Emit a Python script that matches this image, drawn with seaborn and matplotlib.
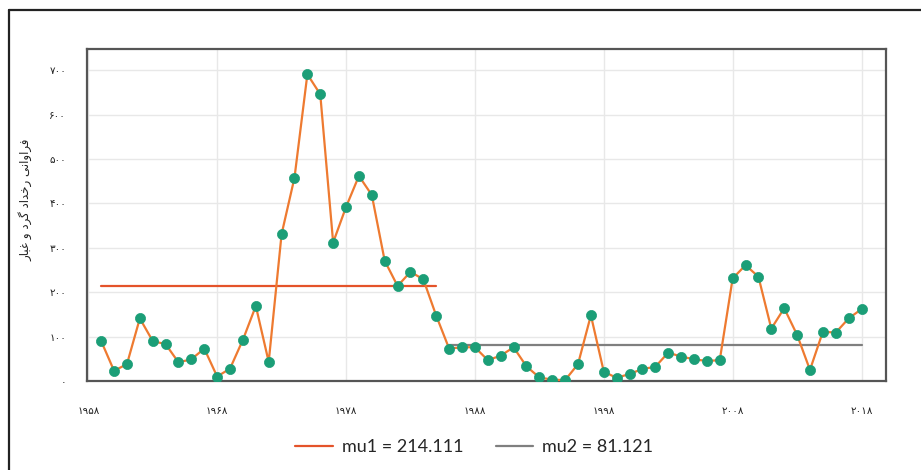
import matplotlib
matplotlib.use("Agg")
import matplotlib.pyplot as plt
import seaborn as sns
import pandas as pd

# ---------------- data ----------------
years = list(range(1959, 2019))
counts = [90, 23, 38, 141, 90, 83, 42, 49, 73, 10,
          28, 93, 169, 43, 331, 458, 691, 646, 312, 392,
          462, 419, 271, 214, 246, 229, 147,
          73, 76, 76, 47, 57, 76, 33, 8, 3, 2,
          38, 148, 21, 7, 16, 27, 32, 64, 55, 49,
          45, 47, 231, 261, 235, 118, 164, 104, 25, 111,
          109, 141, 162]
mu_labels = ["mu1 = 214.111", "mu2 = 81.121"]
mu_values = [214.111, 81.121]
mu_start = [1959, 1986]
mu_end = [1985, 2018]
xtick_years = [1958, 1968, 1978, 1988, 1998, 2008, 2018]
xtick_labels = ["۱۹۵۸", "۱۹۶۸", "۱۹۷۸", "۱۹۸۸", "۱۹۹۸", "۲۰۰۸", "۲۰۱۸"]
ytick_values = [0, 100, 200, 300, 400, 500, 600, 700]
ytick_labels = ["۰", "۱۰۰", "۲۰۰", "۳۰۰", "۴۰۰", "۵۰۰", "۶۰۰", "۷۰۰"]
# "فراوانی رخداد گرد و غبار" in shaped (presentation) forms, logical order
ylabel_logical = ("\uFED3\uFEAE\uFE8D\uFEED\uFE8D\uFEE7\uFEF0 "
                  "\uFEAD\uFEA7\uFEAA\uFE8D\uFEA9 "
                  "\uFB94\uFEAE\uFEA9 "
                  "\uFEED "
                  "\uFECF\uFE92\uFE8E\uFEAD")

series_color = "#ee7a30"
marker_color = "#1b9e77"
mu_colors = ["#e4532a", "#7f7f7f"]

df = pd.DataFrame({"year": years, "count": counts})

sns.set_theme(style="whitegrid")
plt.rcParams["font.family"] = ["DejaVu Sans"]

W, H = 921, 470
fig = plt.figure(figsize=(W / 100, H / 100), dpi=100)
fig.patch.set_facecolor("white")
ax = fig.add_axes([87 / W, 1 - 381 / H, (886 - 87) / W, (381 - 49) / H])
ax.set_facecolor("white")

# mean lines
for lab, mu, s, e, c in zip(mu_labels, mu_values, mu_start, mu_end, mu_colors):
    mdf = pd.DataFrame({"year": [s, e], "val": [mu, mu]})
    sns.lineplot(data=mdf, x="year", y="val", ax=ax, color=c, linewidth=1.6,
                 label=lab, zorder=2)

# main series
sns.lineplot(data=df, x="year", y="count", ax=ax, color=series_color,
             linewidth=1.6, marker="o", markersize=7.3,
             markerfacecolor=marker_color, markeredgecolor=marker_color,
             markeredgewidth=0.5, legend=False, zorder=3)

ax.set_xlim(1957.9, 2019.9)
ax.set_ylim(0, 748)
ax.set_xticks(xtick_years)
ax.set_xticklabels(xtick_labels, fontsize=7.5, color="#222222")
ax.set_yticks(ytick_values)
ax.set_yticklabels(ytick_labels, fontsize=7.5, color="#222222")
ax.tick_params(axis="x", length=0, pad=18)
ax.tick_params(axis="y", length=0, pad=15)
ax.set_xlabel("")
ax.set_ylabel("")
ax.grid(True, color="#e8e8e8", linewidth=1)
for sp in ax.spines.values():
    sp.set_visible(True)
    sp.set_color("#555555")
    sp.set_linewidth(1.6)

fig.text(26 / W, 1 - 200 / H, ylabel_logical[::-1], rotation=90,
         ha="center", va="center", fontsize=8.5, color="#222222",
         family="DejaVu Sans")

handles, labels = ax.get_legend_handles_labels()
if ax.get_legend() is not None:
    ax.get_legend().remove()
fig.legend(handles, labels, loc="center", bbox_to_anchor=(474 / W, 1 - 447 / H),
           ncol=2, frameon=False, handlelength=2.1, handletextpad=0.45,
           columnspacing=1.8, prop={"family": "Lato", "size": 13})

# outer chart border (top and left edges visible)
fig.add_artist(plt.Line2D([9 / W, 9 / W], [0, 1 - 10 / H], transform=fig.transFigure,
                          color="#222222", linewidth=1.6))
fig.add_artist(plt.Line2D([9 / W, 1], [1 - 10 / H, 1 - 10 / H], transform=fig.transFigure,
                          color="#222222", linewidth=1.6))

fig.savefig("out.png", dpi=100)
